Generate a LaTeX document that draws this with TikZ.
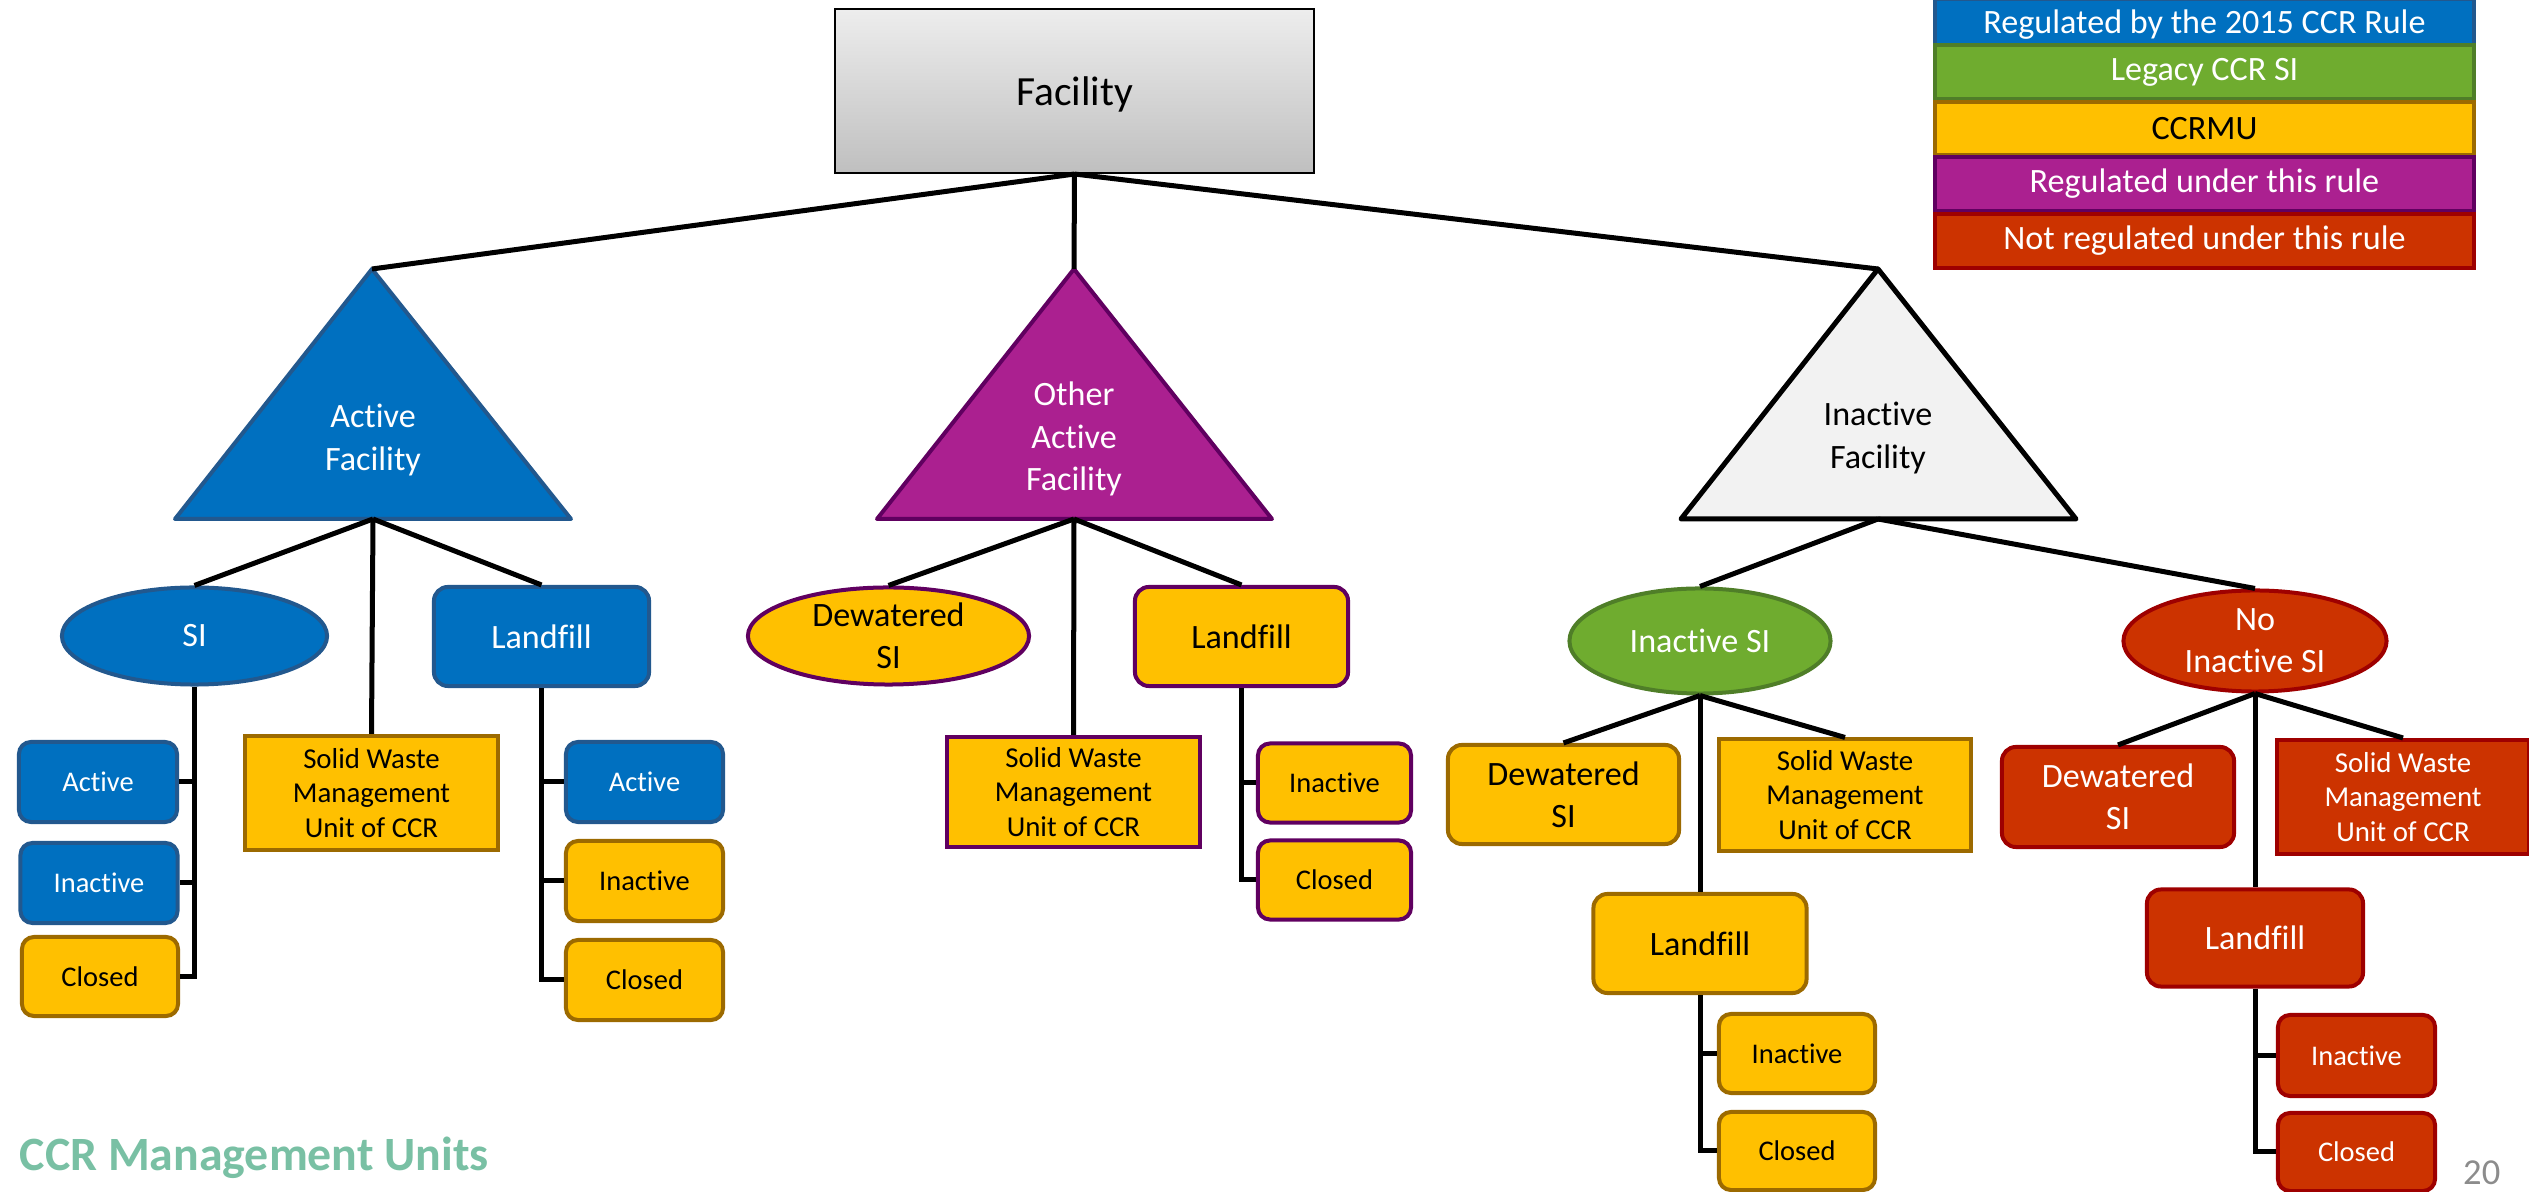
\documentclass[tikz,border=0pt]{standalone}
\usepackage{fontspec}
\setmainfont{Carlito}[Ligatures=NoCommon]
\usetikzlibrary{shapes.geometric}
\definecolor{ccrblue}{HTML}{0070C0}
\definecolor{ccrblueline}{HTML}{22588E}
\definecolor{ccryellow}{HTML}{FFC000}
\definecolor{ccryellowline}{HTML}{9C6A00}
\definecolor{ccrpurple}{HTML}{AB2090}
\definecolor{ccrpurpleline}{HTML}{600060}
\definecolor{ccrgreen}{HTML}{6FAC2F}
\definecolor{ccrgreenline}{HTML}{4F7E28}
\definecolor{ccrred}{HTML}{CC3300}
\definecolor{ccrredline}{HTML}{9E0000}
\definecolor{ccrgray}{HTML}{F2F2F2}
\definecolor{ccrteal}{HTML}{79C0A4}

\begin{document}
\begin{tikzpicture}[x=0.01cm,y=-0.01cm,
  link/.style={black,line width=0.05cm},
  box/.style={draw,line width=0.04cm,rounded corners=0.14cm,inner sep=0pt,align=center,font=\fontsize{9.7}{12}\selectfont},
  smallbox/.style={box,rounded corners=0.12cm,font=\fontsize{8.1}{9.8}\selectfont},
  unitbox/.style={draw,line width=0.04cm,inner sep=0pt,align=center,font=\fontsize{8.2}{9.8}\selectfont},
  oval/.style={ellipse,draw,line width=0.04cm,inner sep=0pt,align=center,font=\fontsize{9.7}{12}\selectfont},
  tri/.style={line width=0.04cm,line join=round},
  trilabel/.style={align=center,font=\fontsize{9.7}{12.2}\selectfont},
  keybox/.style={draw,line width=0.04cm,minimum width=5.39cm,inner sep=0pt,font=\fontsize{9.7}{12}\selectfont},
  bluecol/.style={fill=ccrblue,draw=ccrblueline,text=white},
  yellowcol/.style={fill=ccryellow,draw=ccryellowline,text=black},
  purplecol/.style={fill=ccryellow,draw=ccrpurpleline,text=black},
  greencol/.style={fill=ccrgreen,draw=ccrgreenline,text=white},
  redcol/.style={fill=ccrred,draw=ccrredline,text=white}]
\useasboundingbox (0,0) rectangle (2529,1192);

\node[keybox,bluecol,minimum height=0.46cm,text depth=0pt] (keyRule) at (2204.5,22) {Regulated by the 2015 CCR Rule};
\node[keybox,greencol,minimum height=0.54cm] (keyLegacy) at (2204.5,72) {Legacy CCR SI};
\node[keybox,yellowcol,minimum height=0.53cm] (keyMU) at (2204.5,128.5) {CCRMU};
\node[keybox,fill=ccrpurple,draw=ccrpurpleline,text=white,minimum height=0.54cm] (keyThis) at (2204.5,184) {Regulated under this rule};
\node[keybox,redcol,minimum height=0.54cm] (keyNot) at (2204.5,241) {Not regulated under this rule};

\node[draw,line width=0.02cm,top color=black!7,bottom color=black!25,minimum width=4.79cm,minimum height=1.64cm,text depth=0pt,font=\fontsize{11.8}{14}\selectfont] (facility) at (1074.5,91) {Facility};

\coordinate (actTop) at (372,269);
\coordinate (actBase) at (373,519);
\coordinate (othTop) at (1074,269);
\coordinate (othBase) at (1074,519);
\coordinate (inaTop) at (1878,269);
\coordinate (inaBase) at (1878,519);
\draw[tri,fill=ccrblue,draw=ccrblueline] (actTop) -- (571,519) -- (175,519) -- cycle;
\draw[tri,fill=ccrpurple,draw=ccrpurpleline] (othTop) -- (1272,519) -- (877,519) -- cycle;
\draw[tri,fill=ccrgray,draw=black,line width=0.05cm] (inaTop) -- (2076,519) -- (1681,519) -- cycle;
\node[trilabel,text=white] (actLabel) at (373,440) {Active\\Facility};
\node[trilabel,text=white] (othLabel) at (1074,439) {Other\\Active\\Facility};
\node[trilabel,text=black] (inaLabel) at (1878,438) {Inactive\\Facility};

\node[oval,bluecol,minimum width=2.65cm,minimum height=0.97cm] (si) at (194.5,636) {SI};
\node[box,bluecol,minimum width=2.15cm,minimum height=0.99cm] (actLandfill) at (541.5,636.5) {Landfill};
\node[unitbox,yellowcol,minimum width=2.53cm,minimum height=1.14cm] (actUnit) at (371.5,793) {Solid Waste\\Management\\Unit of CCR};
\node[smallbox,bluecol,minimum width=1.58cm,minimum height=0.80cm] (siActive) at (98,782) {Active};
\node[smallbox,bluecol,minimum width=1.57cm,minimum height=0.80cm] (siInactive) at (99,883) {Inactive};
\node[smallbox,yellowcol,minimum width=1.56cm,minimum height=0.79cm] (siClosed) at (100,976.5) {Closed};
\node[smallbox,bluecol,minimum width=1.57cm,minimum height=0.80cm] (lfActive) at (644.5,782) {Active};
\node[smallbox,yellowcol,minimum width=1.57cm,minimum height=0.80cm] (lfInactive) at (644.5,881) {Inactive};
\node[smallbox,yellowcol,minimum width=1.57cm,minimum height=0.80cm] (lfClosed) at (644.5,980) {Closed};

\node[oval,purplecol,minimum width=2.81cm,minimum height=0.97cm] (othDewatered) at (888.5,636) {Dewatered\\SI};
\node[box,purplecol,minimum width=2.13cm,minimum height=0.99cm] (othLandfill) at (1241.5,636.5) {Landfill};
\node[unitbox,purplecol,minimum width=2.53cm,minimum height=1.10cm] (othUnit) at (1073.5,792) {Solid Waste\\Management\\Unit of CCR};
\node[smallbox,purplecol,minimum width=1.53cm,minimum height=0.79cm] (othInactive) at (1334.5,783) {Inactive};
\node[smallbox,purplecol,minimum width=1.53cm,minimum height=0.79cm] (othClosed) at (1334.5,880) {Closed};

\node[oval,greencol,minimum width=2.61cm,minimum height=1.05cm] (inaSI) at (1700,641) {Inactive SI};
\node[box,yellowcol,minimum width=2.31cm,minimum height=0.99cm] (inaDewatered) at (1563.5,794.5) {Dewatered\\SI};
\node[unitbox,yellowcol,minimum width=2.52cm,minimum height=1.11cm] (inaUnit) at (1845,795) {Solid Waste\\Management\\Unit of CCR};
\node[box,yellowcol,minimum width=2.13cm,minimum height=0.99cm] (inaLandfill) at (1700,943.5) {Landfill};
\node[smallbox,yellowcol,minimum width=1.56cm,minimum height=0.79cm] (inaInactive) at (1797,1053.5) {Inactive};
\node[smallbox,yellowcol,minimum width=1.56cm,minimum height=0.78cm] (inaClosed) at (1797,1151) {Closed};

\node[oval,redcol,minimum width=2.63cm,minimum height=1.01cm] (noSI) at (2255,641) {No\\Inactive SI};
\node[box,redcol,minimum width=2.32cm,minimum height=1.00cm] (noDewatered) at (2118,797) {Dewatered\\SI};
\node[unitbox,redcol,minimum width=2.52cm,minimum height=1.14cm] (noUnit) at (2403,797) {Solid Waste\\Management\\Unit of CCR};
\node[box,redcol,minimum width=2.16cm,minimum height=0.97cm] (noLandfill) at (2255,938) {Landfill};
\node[smallbox,redcol,minimum width=1.57cm,minimum height=0.81cm] (noInactive) at (2356.5,1055.5) {Inactive};
\node[smallbox,redcol,minimum width=1.57cm,minimum height=0.78cm] (noClosed) at (2356.5,1152) {Closed};

\draw[link] (facility.south) -- (actTop);
\draw[link] (facility.south) -- (othTop);
\draw[link] (facility.south) -- (inaTop);
\draw[link] (actBase) -- (si.north);
\draw[link] (actBase) -- (actUnit.north);
\draw[link] (actBase) -- (actLandfill.north);
\draw[link] (othBase) -- (othDewatered.north);
\draw[link] (othBase) -- (othUnit.north);
\draw[link] (othBase) -- (othLandfill.north);
\draw[link] (inaBase) -- (inaSI.north);
\draw[link] (inaBase) -- (noSI.north);
\draw[link] (inaSI.south) -- (inaDewatered.north);
\draw[link] (inaSI.south) -- (inaUnit.north);
\draw[link] (inaSI.south) -- (inaLandfill.north);
\draw[link] (noSI.south) -- (noDewatered.north);
\draw[link] (noSI.south) -- (noUnit.north);
\draw[link] (noSI.south) -- (noLandfill.north);

\draw[link] (si.south) |- (siClosed.east);
\draw[link] (si.south |- siActive.east) -- (siActive.east);
\draw[link] (si.south |- siInactive.east) -- (siInactive.east);
\draw[link] (actLandfill.south) |- (lfClosed.west);
\draw[link] (actLandfill.south |- lfActive.west) -- (lfActive.west);
\draw[link] (actLandfill.south |- lfInactive.west) -- (lfInactive.west);
\draw[link] (othLandfill.south) |- (othClosed.west);
\draw[link] (othLandfill.south |- othInactive.west) -- (othInactive.west);
\draw[link] (inaLandfill.south) |- (inaClosed.west);
\draw[link] (inaLandfill.south |- inaInactive.west) -- (inaInactive.west);
\draw[link] (noLandfill.south) |- (noClosed.west);
\draw[link] (noLandfill.south |- noInactive.west) -- (noInactive.west);

\node[anchor=base west,inner sep=0pt,text=ccrteal,font=\fontsize{13.6}{16}\selectfont\bfseries] (title) at (19,1171) {CCR Management Units};
\node[anchor=base east,inner sep=0pt,text=black!45,font=\fontsize{10.4}{12}\selectfont] (pageNo) at (2501,1185) {20};
\end{tikzpicture}
\end{document}
